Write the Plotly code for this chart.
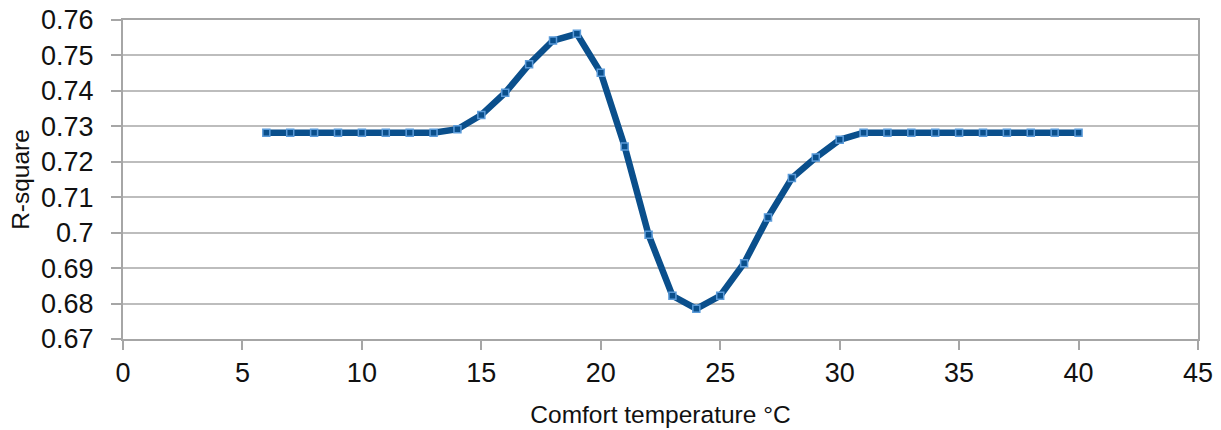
import plotly.graph_objects as go

comfort_temp = list(range(6, 41))
r_square = [
    0.7282, 0.7282, 0.7282, 0.7282, 0.7282, 0.7282, 0.7282, 0.7282,  # 6-13
    0.7292, 0.7332, 0.7395, 0.7475, 0.7542, 0.7561, 0.7451, 0.7243,  # 14-21
    0.6994, 0.6822, 0.6785, 0.6822, 0.6914, 0.7043, 0.7154, 0.7212,  # 22-29
    0.7262, 0.7282, 0.7282, 0.7282, 0.7282, 0.7282, 0.7282, 0.7282,  # 30-37
    0.7282, 0.7282, 0.7282,  # 38-40
]
x_ticks = [0, 5, 10, 15, 20, 25, 30, 35, 40, 45]
y_ticks = [0.67, 0.68, 0.69, 0.70, 0.71, 0.72, 0.73, 0.74, 0.75, 0.76]
y_tick_labels = ["0.67", "0.68", "0.69", "0.7", "0.71", "0.72", "0.73", "0.74", "0.75", "0.76"]

fig = go.Figure()
fig.add_trace(go.Scatter(
    x=comfort_temp, y=r_square, mode="lines+markers",
    line=dict(color="#0a4f8c", width=6.5),
    marker=dict(symbol="square", size=7, color="#0a4f8c",
                line=dict(color="#5b9bd9", width=1.5)),
    showlegend=False,
))

font_family = "Liberation Sans, Arial, sans-serif"
fig.update_layout(
    width=1221, height=430,
    margin=dict(l=123, r=23, t=20, b=91),
    plot_bgcolor="white", paper_bgcolor="white",
    font=dict(family=font_family, color="#111111"),
    xaxis=dict(
        range=[0, 45], tickvals=x_ticks, ticktext=[str(v) for v in x_ticks],
        showgrid=False, zeroline=False, automargin=False,
        showline=True, linecolor="#a6a6a6", linewidth=2, mirror=True,
        ticks="outside", ticklen=9, tickwidth=1.5, tickcolor="#a6a6a6",
        tickfont=dict(size=27, family=font_family, color="#111111"),
        title=dict(text="Comfort temperature °C", standoff=18,
                   font=dict(size=24.5, family=font_family, color="#111111")),
    ),
    yaxis=dict(
        range=[0.67, 0.76], tickvals=y_ticks, ticktext=y_tick_labels,
        showgrid=True, gridcolor="#bdbdbd", gridwidth=1.5, zeroline=False,
        automargin=False,
        showline=True, linecolor="#a6a6a6", linewidth=2, mirror=True,
        ticks="outside", ticklen=10, tickwidth=1.5, tickcolor="#a6a6a6",
        ticklabelstandoff=12,
        tickfont=dict(size=27, family=font_family, color="#111111"),
        title=dict(text="R-square", standoff=4,
                   font=dict(size=24.5, family=font_family, color="#111111")),
    ),
)

fig.write_html("out.html")
